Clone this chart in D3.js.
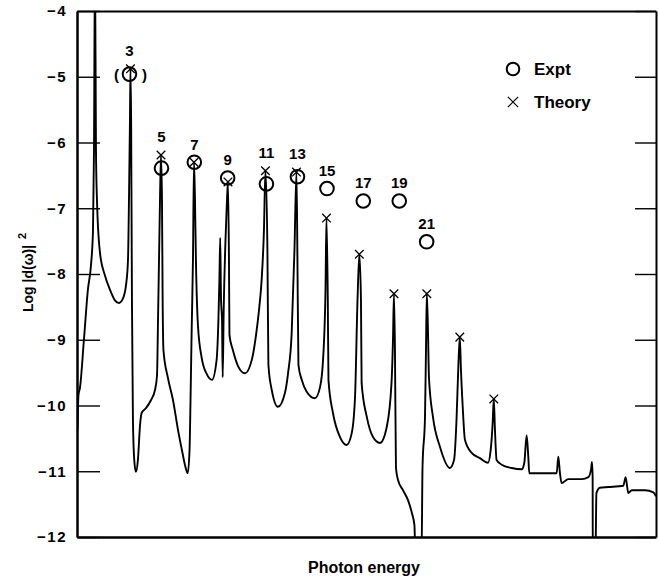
<!DOCTYPE html>
<html>
<head>
<meta charset="utf-8">
<script src="https://cdn.jsdelivr.net/npm/d3@7"></script>
<style>
	body { margin: 0; background: #fff; }
	svg text { font-family: "Liberation Sans", Arial, sans-serif; font-weight: bold; fill: #000; }
	.axis path, .axis line { stroke: #000; }
	.axis text { font-size: 15px; letter-spacing: 1.5px; }
</style>
</head>
<body>
<div id="viz-container"></div>
<script>
// harmonic spectrum, photon energy in units of the laser photon
var specEnergy = [-0.18, -0.12, -0.03, 0.21, 0.45, 0.64, 0.76, 0.82, 0.88, 0.94, 1.00, 1.18, 1.48, 1.79, 2.09, 2.33, 2.58, 2.76, 2.88, 2.94,
	3.00, 3.03, 3.07, 3.12, 3.18, 3.26, 3.36, 3.48, 3.61, 3.71, 3.97, 4.27, 4.52, 4.64, 4.70, 4.76, 4.82, 4.88, 4.94, 4.98,
	5.03, 5.30, 5.61, 5.91, 6.15, 6.33, 6.50, 6.61, 6.67, 6.74, 6.82, 6.88, 6.94, 7.00, 7.12, 7.35, 7.65, 7.97, 8.25, 8.36,
	8.42, 8.47, 8.52, 8.58, 8.62, 8.68, 8.79, 8.88, 8.94, 9.00, 9.03, 9.24, 9.55, 9.97, 10.38, 10.64, 10.82, 10.98, 11.12, 11.21,
	11.33, 11.39, 11.59, 11.97, 12.39, 12.58, 12.80, 12.97, 13.09, 13.15, 13.21, 13.41, 13.71, 14.21, 14.52, 14.70, 14.85, 14.91, 14.99, 15.03,
	15.30, 15.73, 16.13, 16.44, 16.64, 16.79, 16.90, 17.00, 17.04, 17.35, 17.73, 18.15, 18.56, 18.85, 18.94, 19.00, 19.06, 19.12, 19.24, 19.55,
	19.85, 20.09, 20.24, 20.30, 20.67, 20.73, 20.88, 20.94, 20.99, 21.06, 21.12, 21.36, 21.79, 22.39, 22.64, 22.79, 22.90, 22.99, 23.06, 23.16,
	23.30, 23.71, 24.21, 24.70, 24.86, 24.98, 25.05, 25.12, 25.22, 25.53, 26.13, 26.74, 26.90, 27.04, 27.14, 27.20, 28.15, 28.86, 28.96, 29.06,
	29.16, 29.56, 30.38, 30.78, 30.94, 31.00, 31.04, 31.05, 31.21, 31.27, 31.48, 31.99, 32.90, 33.04, 33.20, 33.41, 34.21, 34.72, 34.88];
var specLogD = [-10.37, -9.84, -9.73, -9.00, -8.24, -7.86, -7.33, -6.11, -3.20, -6.11, -6.87, -7.67, -8.02, -8.24, -8.40, -8.44, -8.37, -8.17, -7.79, -6.87,
	-5.66, -4.88, -5.66, -8.40, -10.22, -10.83, -11.01, -10.83, -10.30, -10.11, -10.04, -9.92, -9.76, -9.54, -8.70, -7.79, -6.87, -6.19, -6.87, -8.40,
	-9.16, -9.58, -9.92, -10.37, -10.68, -10.90, -11.03, -10.68, -9.92, -8.85, -7.74, -6.30, -6.87, -7.82, -8.78, -9.28, -9.52, -9.61, -9.31, -8.70,
	-8.09, -7.45, -8.40, -8.70, -9.57, -8.55, -7.48, -6.87, -6.60, -7.79, -8.93, -9.16, -9.40, -9.51, -9.31, -8.93, -8.55, -8.09, -7.33, -6.43,
	-7.63, -9.38, -9.76, -10.02, -9.81, -9.51, -8.90, -7.63, -6.45, -7.79, -9.38, -9.61, -9.79, -9.89, -9.72, -9.31, -8.24, -7.15, -8.40, -9.61,
	-10.11, -10.48, -10.60, -10.42, -9.87, -8.40, -7.70, -8.40, -9.66, -10.17, -10.48, -10.57, -10.33, -9.66, -9.00, -8.30, -9.16, -10.94, -11.13, -11.29,
	-11.44, -11.64, -11.82, -12.30, -12.30, -10.94, -10.17, -9.16, -8.30, -8.85, -9.57, -10.17, -10.63, -10.95, -10.83, -10.22, -9.41, -8.96, -9.46, -9.99,
	-10.52, -10.72, -10.80, -10.87, -10.68, -10.27, -9.90, -10.37, -10.83, -10.90, -10.95, -10.97, -10.87, -10.45, -10.78, -11.03, -11.03, -11.03, -10.78, -11.03,
	-11.18, -11.12, -11.12, -11.09, -10.98, -10.86, -11.09, -12.30, -12.30, -11.33, -11.25, -11.24, -11.22, -11.09, -11.33, -11.29, -11.29, -11.32, -11.38];

var harmonicOrders = [3, 5, 7, 9, 11, 13, 15, 17, 19, 21];
var exptEnergy = [2.97, 4.91, 6.90, 8.92, 11.27, 13.15, 14.94, 17.14, 19.32, 20.98];
var exptLogD = [-4.96, -6.39, -6.30, -6.54, -6.63, -6.52, -6.70, -6.89, -6.89, -7.51];

var theoryEnergy = [3.03, 4.88, 6.88, 8.94, 11.21, 13.09, 14.91, 16.90, 19.00, 20.99, 22.99, 25.05];
var theoryLogD = [-4.88, -6.19, -6.30, -6.60, -6.43, -6.45, -7.15, -7.70, -8.30, -8.30, -8.96, -9.90];

var yTicks = [-12, -11, -10, -9, -8, -7, -6, -5, -4];

function init() {
	var svg = d3.select('#viz-container').append('svg')
		.attr('width', 659)
		.attr('height', 581);

	var margin = {top: 11, right: 3, bottom: 44, left: 77},
	    width = 659 - margin.left - margin.right,
	    height = 581 - margin.top - margin.bottom;

	var x = d3.scaleLinear()
		.domain([-0.21, 34.88])
		.range([margin.left, margin.left + width]);

	var y = d3.scaleLinear()
		.domain([-12, -4])
		.range([margin.top + height, margin.top]);

	svg.append('defs').append('clipPath')
		.attr('id', 'plot-clip')
	  .append('rect')
		.attr('x', margin.left)
		.attr('y', margin.top)
		.attr('width', width)
		.attr('height', height);

	// spectrum
	var spectrum = specEnergy.map(function(e, i) { return [e, specLogD[i]]; });
	var line = d3.line()
		.x(function(d) { return x(d[0]); })
		.y(function(d) { return y(d[1]); })
		.curve(d3.curveMonotoneX);

	svg.append('path')
		.datum(spectrum)
		.attr('clip-path', 'url(#plot-clip)')
		.attr('fill', 'none')
		.attr('stroke', '#000')
		.attr('stroke-width', 1.9)
		.attr('stroke-linejoin', 'round')
		.attr('d', line);

	// axes, ticks point inwards
	svg.append('g')
		.attr('class', 'axis')
		.attr('transform', 'translate(' + margin.left + ',0)')
		.call(d3.axisLeft(y).tickValues(yTicks).tickSize(-23).tickSizeOuter(0).tickPadding(10))
		.call(function(g) { g.select('.domain').attr('stroke-width', 2.5); })
		.call(function(g) { g.selectAll('.tick line').attr('stroke-width', 1.4); });

	svg.append('g')
		.attr('class', 'axis')
		.attr('transform', 'translate(' + (margin.left + width) + ',0)')
		.call(d3.axisRight(y).tickValues(yTicks).tickSize(-21).tickSizeOuter(0).tickFormat(''))
		.call(function(g) { g.select('.domain').attr('stroke-width', 2); })
		.call(function(g) { g.selectAll('.tick line').attr('stroke-width', 1.4); });

	svg.append('g')
		.attr('class', 'axis')
		.attr('transform', 'translate(0,' + (margin.top + height) + ')')
		.call(d3.axisBottom(x).tickValues([]).tickSizeOuter(0))
		.call(function(g) { g.select('.domain').attr('stroke-width', 2.5); });

	svg.append('g')
		.attr('class', 'axis')
		.attr('transform', 'translate(0,' + margin.top + ')')
		.call(d3.axisTop(x).tickValues([]).tickSizeOuter(0))
		.call(function(g) { g.select('.domain').attr('stroke-width', 2); });

	// theory crosses
	var cross = d3.symbol().type(d3.symbolX).size(50);
	svg.append('g').selectAll('path')
		.data(theoryEnergy)
	    .enter().append('path')
	    .attr('transform', function(d, i) { return 'translate(' + x(d) + ',' + y(theoryLogD[i]) + ')'; })
	    .attr('d', cross)
	    .attr('fill', 'none')
	    .attr('stroke', '#000')
	    .attr('stroke-width', 1.3);

	// experiment circles
	svg.append('g').selectAll('circle')
		.data(exptEnergy)
	    .enter().append('circle')
	    .attr('cx', function(d) { return x(d); })
	    .attr('cy', function(d, i) { return y(exptLogD[i]); })
	    .attr('r', 6.8)
	    .attr('fill', 'none')
	    .attr('stroke', '#000')
	    .attr('stroke-width', 2);

	// harmonic order labels, above the higher of the two marks
	svg.append('g').selectAll('text')
		.data(harmonicOrders)
	    .enter().append('text')
	    .attr('x', function(d, i) { return x(exptEnergy[i]); })
	    .attr('y', function(d, i) { return Math.min(y(exptLogD[i]), y(theoryLogD[i])) - 18; })
	    .attr('dy', '0.36em')
	    .attr('text-anchor', 'middle')
	    .style('font-size', '15px')
	    .text(function(d) { return d; });

	// third harmonic point is bracketed
	var c3x = x(exptEnergy[0]), c3y = y(exptLogD[0]);
	svg.append('text').attr('x', c3x - 13).attr('y', c3y).attr('dy', '0.36em')
		.attr('text-anchor', 'middle').style('font-size', '15px').text('(');
	svg.append('text').attr('x', c3x + 15).attr('y', c3y).attr('dy', '0.36em')
		.attr('text-anchor', 'middle').style('font-size', '15px').text(')');

	// legend
	var legend = svg.append('g').attr('transform', 'translate(513,69)');
	legend.append('circle')
		.attr('r', 6.3)
		.attr('fill', 'none')
		.attr('stroke', '#000')
		.attr('stroke-width', 2);
	legend.append('text').attr('x', 21).attr('y', 6).style('font-size', '17px').text('Expt');
	legend.append('path')
		.attr('transform', 'translate(0,33)')
		.attr('d', d3.symbol().type(d3.symbolX).size(70))
		.attr('fill', 'none')
		.attr('stroke', '#000')
		.attr('stroke-width', 1.2);
	legend.append('text').attr('x', 21).attr('y', 39).style('font-size', '17px').text('Theory');

	// axis titles
	svg.append('text')
		.attr('x', 364)
		.attr('y', 573)
		.attr('text-anchor', 'middle')
		.style('font-size', '16px')
		.text('Photon energy');

	var ylab = svg.append('text')
		.attr('transform', 'translate(33,312) rotate(-90)')
		.style('font-size', '14px')
		.text('Log |d(\u03c9)|');
	ylab.append('tspan')
		.attr('dx', 6)
		.attr('dy', -7)
		.style('font-size', '11px')
		.text('2');
}

init();
</script>
</body>
</html>
